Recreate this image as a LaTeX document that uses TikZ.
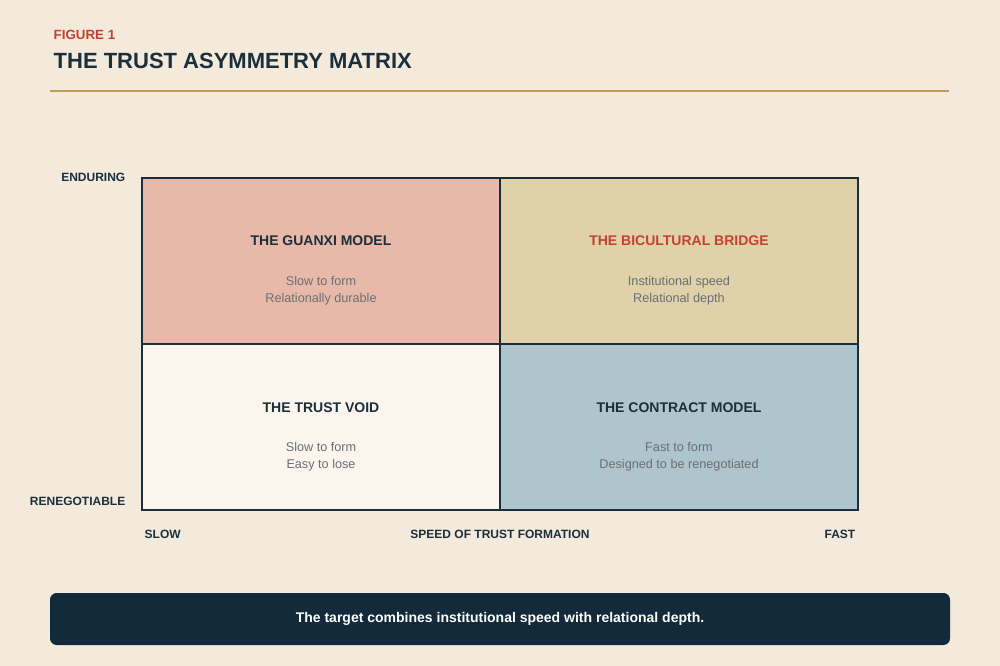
\documentclass[tikz,border=0pt]{standalone}
\usepackage{fontspec}
\setmainfont{Liberation Sans}
\definecolor{bg}{HTML}{F4EADC}
\definecolor{navy}{HTML}{1B2E3C}
\definecolor{redc}{HTML}{C8402F}
\definecolor{gold}{HTML}{C49A5A}
\definecolor{qtl}{HTML}{E8B9A8}
\definecolor{qtr}{HTML}{DFD1A9}
\definecolor{qbl}{HTML}{FBF5EE}
\definecolor{qbr}{HTML}{AFC5CE}
\definecolor{subg}{HTML}{6B6F73}
\definecolor{barc}{HTML}{132A3A}
\begin{document}
\begin{tikzpicture}[x=0.75pt,y=-0.75pt,
  quad/.style={draw=navy,line width=1.5pt},
  qtitle/.style={font=\fontsize{10.5}{12}\selectfont\bfseries,text=navy},
  qsub/.style={font=\fontsize{9.5}{12.5}\selectfont,text=subg,align=center},
  axis/.style={font=\fontsize{9}{11}\selectfont\bfseries,text=navy}]
\fill[bg] (0,0) rectangle (1000,666);
\useasboundingbox (0,0) rectangle (1000,666);
\node[anchor=west,font=\fontsize{10}{12}\selectfont\bfseries,text=redc] (fig) at (49,35) {FIGURE 1};
\node[anchor=west,font=\fontsize{16.5}{20}\selectfont\bfseries,text=navy] (title) at (49,61) {THE TRUST ASYMMETRY MATRIX};
\draw[gold,line width=1.3pt] (50,91) -- (949,91);
\fill[qtl] (142,178) rectangle (500,344);
\fill[qtr] (500,178) rectangle (858,344);
\fill[qbl] (142,344) rectangle (500,510);
\fill[qbr] (500,344) rectangle (858,510);
\draw[quad] (142,178) rectangle (858,510);
\draw[quad] (500,178) -- (500,510);
\draw[quad] (142,344) -- (858,344);
\node[qtitle] (t1) at (321,241) {THE GUANXI MODEL};
\node[qsub] (s1) at (321,291) {Slow to form\\Relationally durable};
\node[qtitle,text=redc] (t2) at (679,241) {THE BICULTURAL BRIDGE};
\node[qsub] (s2) at (679,291) {Institutional speed\\Relational depth};
\node[qtitle] (t3) at (321,408) {THE TRUST VOID};
\node[qsub] (s3) at (321,457) {Slow to form\\Easy to lose};
\node[qtitle] (t4) at (679,408) {THE CONTRACT MODEL};
\node[qsub] (s4) at (679,457) {Fast to form\\Designed to be renegotiated};
\node[axis,anchor=east] (en) at (130,177) {ENDURING};
\node[axis,anchor=east] (re) at (130,501) {RENEGOTIABLE};
\node[axis,anchor=west] (sl) at (140,534) {SLOW};
\node[axis] (sp) at (500,534) {SPEED OF TRUST FORMATION};
\node[axis,anchor=east] (fa) at (860,534) {FAST};
\fill[barc,rounded corners=5pt] (50,593) rectangle (950,645);
\node[font=\fontsize{10.5}{12}\selectfont\bfseries,text=white] (bar) at (500,619) {The target combines institutional speed with relational depth.};
\end{tikzpicture}
\end{document}
